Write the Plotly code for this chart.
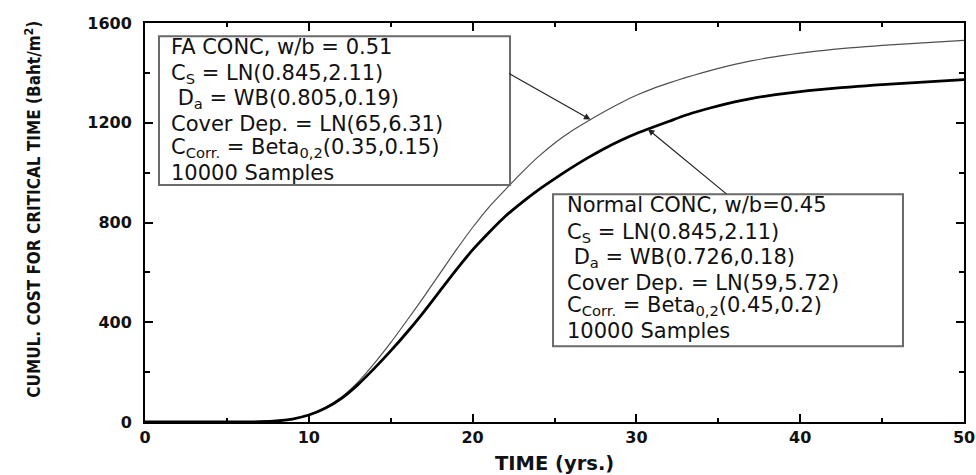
import numpy as np
import plotly.graph_objects as go

# Service life in years
years = list(range(0, 51))

# Cumulative cost for critical time (Baht/m^2)
normal_conc = [0, 0, 0, 0, 0, 0, 0, 1, 4, 12,
               28, 55, 95, 150, 215, 285, 360, 440, 525, 610,
               690, 760, 825, 880, 930, 975, 1018, 1058, 1095, 1128,
               1157, 1182, 1206, 1230, 1250, 1268, 1284, 1297, 1308, 1317,
               1325, 1332, 1338, 1343, 1348, 1353, 1357, 1361, 1365, 1369,
               1373]
fa_conc = [0, 0, 0, 0, 0, 0, 0, 1, 4, 12,
           29, 58, 100, 160, 235, 318, 408, 500, 595, 690,
           780, 862, 932, 1000, 1063, 1118, 1165, 1205, 1243, 1278,
           1310, 1337, 1360, 1381, 1400, 1418, 1434, 1448, 1460, 1470,
           1479, 1487, 1494, 1500, 1505, 1510, 1514, 1518, 1522, 1526,
           1530]

x_ticks = [0, 10, 20, 30, 40, 50]
y_ticks = [0, 400, 800, 1200, 1600]

fa_lines = [
    "FA CONC, w/b = 0.51",
    "C<sub>S</sub> = LN(0.845,2.11)",
    " D<sub>a</sub> = WB(0.805,0.19)",
    "Cover Dep. = LN(65,6.31)",
    "C<sub>Corr.</sub> = Beta<sub>0,2</sub>(0.35,0.15)",
    "10000 Samples",
]
normal_lines = [
    "Normal CONC, w/b=0.45",
    "C<sub>S</sub> = LN(0.845,2.11)",
    " D<sub>a</sub> = WB(0.726,0.18)",
    "Cover Dep. = LN(59,5.72)",
    "C<sub>Corr.</sub> = Beta<sub>0,2</sub>(0.45,0.2)",
    "10000 Samples",
]

BOX_FONT = dict(family="DejaVu Sans", size=21, color="#111")
TICK_FONT = dict(family="DejaVu Sans", size=16, color="#111", weight="bold")

fig = go.Figure()
fig.add_trace(go.Scatter(x=years, y=fa_conc, mode="lines",
                         line=dict(color="#505050", width=1.2, shape="spline", smoothing=0.6),
                         name="FA CONC", showlegend=False))
fig.add_trace(go.Scatter(x=years, y=normal_conc, mode="lines",
                         line=dict(color="#000000", width=2.8, shape="spline", smoothing=0.6),
                         name="Normal CONC", showlegend=False))

annotations = []
shapes = []


def add_box(x0, x1, y0, y1, text_x, line_ys, lines):
    shapes.append(dict(type="rect", xref="paper", yref="paper",
                       x0=x0, x1=x1, y0=y0, y1=y1,
                       line=dict(color="#6a6a6a", width=2), fillcolor="white", layer="above"))
    for ly, txt in zip(line_ys, lines):
        annotations.append(dict(xref="paper", yref="paper", x=text_x, y=ly,
                                xanchor="left", yanchor="middle", text=txt,
                                showarrow=False, font=BOX_FONT))


add_box(0.0171, 0.4457, 0.594, 0.967, 0.0293,
        [0.940, 0.872, 0.810, 0.747, 0.687, 0.624], fa_lines)
add_box(0.4982, 0.9255, 0.190, 0.571, 0.5128,
        [0.544, 0.474, 0.411, 0.348, 0.291, 0.228], normal_lines)

# Leader arrows from each box to its curve
fa_tip = 27.2
normal_tip = 30.7
annotations.append(dict(x=fa_tip, y=float(np.interp(fa_tip, years, fa_conc)),
                        xref="x", yref="y", ax=-83, ay=-47, text="",
                        showarrow=True, arrowhead=2, arrowsize=1.1, arrowwidth=1.2,
                        arrowcolor="#222", standoff=0))
annotations.append(dict(x=normal_tip, y=float(np.interp(normal_tip, years, normal_conc)),
                        xref="x", yref="y", ax=80, ay=66, text="",
                        showarrow=True, arrowhead=2, arrowsize=1.1, arrowwidth=1.2,
                        arrowcolor="#222", standoff=0))

# Axis titles
annotations.append(dict(xref="paper", yref="paper", x=0.5, y=-0.104,
                        xanchor="center", yanchor="middle", text="TIME (yrs.)",
                        showarrow=False,
                        font=dict(family="DejaVu Sans", size=19.5, color="#111", weight="bold")))
annotations.append(dict(xref="paper", yref="paper", x=-0.137, y=0.534,
                        xanchor="center", yanchor="middle", textangle=-90,
                        text="CUMUL. COST FOR CRITICAL TIME (Baht/m<sup>2</sup>)",
                        showarrow=False,
                        font=dict(family="DejaVu Sans Condensed, Liberation Sans", size=17,
                                  color="#111", weight="bold")))

axis_common = dict(showline=True, linecolor="black", linewidth=2, mirror="ticks",
                   ticks="inside", tickcolor="black", tickwidth=1.5, ticklen=8,
                   showgrid=False, zeroline=False, tickfont=TICK_FONT,
                   automargin=False, ticklabeloverflow="allow")

fig.update_layout(
    width=976, height=475,
    margin=dict(l=145, r=12, t=23, b=53),
    paper_bgcolor="white", plot_bgcolor="white",
    xaxis=dict(range=[0, 50], tickvals=x_ticks, ticktext=[str(v) for v in x_ticks],
               minor=dict(ticks="inside", ticklen=4, dtick=5, tickcolor="black", tickwidth=1.5),
               **axis_common),
    yaxis=dict(range=[0, 1600], tickvals=y_ticks, ticktext=[str(v) for v in y_ticks],
               ticklabelstandoff=8,
               minor=dict(ticks="inside", ticklen=5, dtick=200, tickcolor="black", tickwidth=1.5),
               **axis_common),
    shapes=shapes,
    annotations=annotations,
    showlegend=False,
)

fig.write_html("out.html")
